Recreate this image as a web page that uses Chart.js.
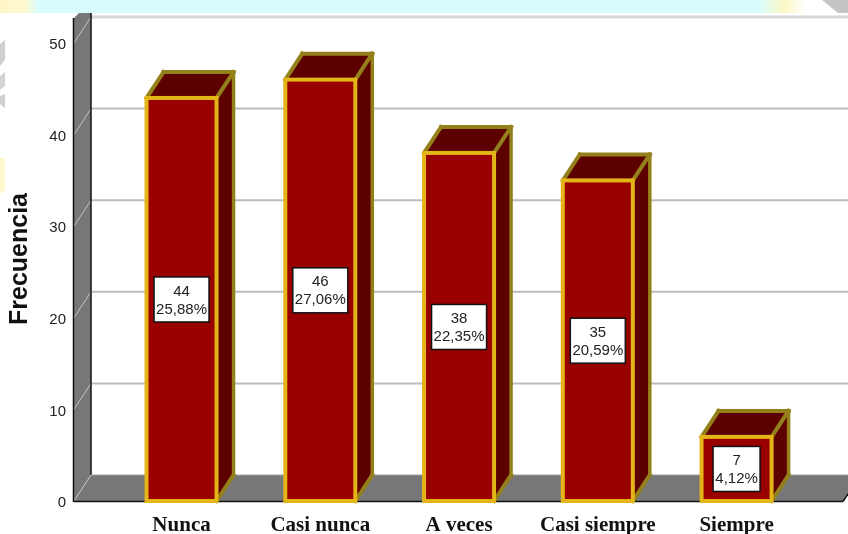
<!DOCTYPE html>
<html>
<head>
<meta charset="utf-8">
<title>Frecuencia</title>
<script src="https://cdn.jsdelivr.net/npm/chart.js@4"></script>
<style>
  html, body { margin: 0; padding: 0; background: #fff; }
  canvas { display: block; }
</style>
</head>
<body>
<canvas id="chart" width="848" height="534"></canvas>
<script>
// Chart data
const categories = ["Nunca", "Casi nunca", "A veces", "Casi siempre", "Siempre"];
const frequencies = [44, 46, 38, 35, 7];
const percentages = ["25,88%", "27,06%", "22,35%", "20,59%", "4,12%"];
const yTicks = [0, 10, 20, 30, 40, 50];
const yTitle = "Frecuencia";

// 3D look
const depthX = 17;
const depthY = 26;
const gold = "#e3b516";
const olive = "#94801a";
const wallGrey = "#777777";

function poly(ctx, pts, fill) {
  ctx.beginPath();
  pts.forEach((p, i) => i ? ctx.lineTo(p[0], p[1]) : ctx.moveTo(p[0], p[1]));
  ctx.closePath();
  if (fill) { ctx.fillStyle = fill; ctx.fill(); }
}

function line(ctx, x1, y1, x2, y2, color, width) {
  ctx.strokeStyle = color;
  ctx.lineWidth = width;
  ctx.beginPath();
  ctx.moveTo(x1, y1);
  ctx.lineTo(x2, y2);
  ctx.stroke();
}

// Page background scraps around the chart
const backdrop = {
  id: "backdrop",
  beforeDraw(chart) {
    const ctx = chart.ctx;
    const band = ctx.createLinearGradient(0, 0, 848, 0);
    band.addColorStop(0, "#fff6c8");
    band.addColorStop(0.03, "#fdf8d0");
    band.addColorStop(0.045, "#d8fcfc");
    band.addColorStop(0.895, "#d8fcfc");
    band.addColorStop(0.925, "#fdf8c4");
    band.addColorStop(0.95, "#ffffff");
    band.addColorStop(1, "#ffffff");
    ctx.fillStyle = band;
    ctx.fillRect(0, 0, 848, 13);
    poly(ctx, [[822, 0], [848, 0], [848, 13], [838, 13]], "#c4c4c4");
    poly(ctx, [[0, 44], [5, 40], [5, 60], [0, 66]], "#cfcfcf");
    poly(ctx, [[0, 76], [5, 72], [5, 86], [0, 90]], "#d4d4d4");
    poly(ctx, [[0, 96], [5, 94], [5, 108], [0, 104]], "#cfcfcf");
    poly(ctx, [[0, 158], [5, 158], [5, 190], [0, 194]], "#fcf8cc");
  }
};

// Walls, floor, grid and bar sides
const walls = {
  id: "walls",
  beforeDatasetsDraw(chart) {
    const ctx = chart.ctx;
    const { left, right, bottom } = chart.chartArea;
    const y = chart.scales.y;
    ctx.save();
    poly(ctx, [[left, bottom], [left + depthX, bottom - depthY], [left + depthX, 13], [left + 5, 13], [left, 18]], wallGrey);
    poly(ctx, [[left, bottom], [right, bottom], [right + depthX, bottom - depthY], [left + depthX, bottom - depthY]], wallGrey);
    yTicks.forEach(v => {
      const py = y.getPixelForValue(v);
      if (v > 0) {
        line(ctx, left + depthX, py - depthY, 848, py - depthY, v === 50 ? "#d6d6d6" : "#bdbdbd", v === 50 ? 3 : 2);
      }
      line(ctx, left, py, left + depthX, py - depthY, "#c4c4c4", 1);
    });
    line(ctx, left - 0.5, 18, left - 0.5, bottom + 1, "#111", 1.5);
    line(ctx, left + depthX, 13, left + depthX, bottom - depthY, "#111", 1.5);
    line(ctx, left, bottom + 0.5, right, bottom + 0.5, "#111", 1.5);
    line(ctx, right, bottom + 0.5, right + 5, bottom - 7, "#111", 1.5);
    line(ctx, left + depthX, bottom - depthY, 848, bottom - depthY, "#a0a0a0", 1);

    chart.getDatasetMeta(0).data.forEach(bar => {
      const l = bar.x - bar.width / 2, r = bar.x + bar.width / 2;
      const t = bar.y, b = bar.base;
      poly(ctx, [[r, t], [r + depthX, t - depthY], [r + depthX, b - depthY], [r, b]], "#5c0000");
      poly(ctx, [[l, t], [l + depthX, t - depthY], [r + depthX, t - depthY], [r, t]], "#5c0000");
      ctx.lineCap = "square";
      line(ctx, l, t, l + depthX, t - depthY, olive, 4);
      line(ctx, l + depthX, t - depthY, r + depthX, t - depthY, olive, 4);
      line(ctx, r, t, r + depthX, t - depthY, olive, 4);
      line(ctx, r + depthX, t - depthY, r + depthX, b - depthY, olive, 3.5);
      line(ctx, r, b, r + depthX, b - depthY, olive, 4);
      ctx.lineCap = "butt";
    });
    ctx.restore();
  }
};

// Gold frame, the count / percent boxes and the y title
const barLabels = {
  id: "barLabels",
  afterDatasetsDraw(chart) {
    const ctx = chart.ctx;
    const y = chart.scales.y;
    ctx.save();
    chart.getDatasetMeta(0).data.forEach((bar, i) => {
      ctx.strokeStyle = gold;
      ctx.lineWidth = 4;
      ctx.strokeRect(bar.x - bar.width / 2, bar.y, bar.width, bar.base - bar.y);

      ctx.font = "15px 'Liberation Sans'";
      ctx.textAlign = "center";
      ctx.textBaseline = "middle";
      const w = Math.round(ctx.measureText(percentages[i]).width) + 4;
      const h = 45;
      const cy = y.getPixelForValue(frequencies[i] / 2);
      ctx.fillStyle = "#ffffff";
      ctx.fillRect(bar.x - w / 2, cy - h / 2, w, h);
      ctx.strokeStyle = "#111";
      ctx.lineWidth = 1.5;
      ctx.strokeRect(bar.x - w / 2, cy - h / 2, w, h);
      ctx.fillStyle = "#222";
      ctx.fillText(String(frequencies[i]), bar.x, cy - 8);
      ctx.fillText(percentages[i], bar.x, cy + 10);
    });

    ctx.translate(27, 259);
    ctx.rotate(-Math.PI / 2);
    ctx.font = "bold 25px 'Liberation Sans'";
    ctx.textAlign = "center";
    ctx.textBaseline = "alphabetic";
    ctx.fillStyle = "#111";
    ctx.fillText(yTitle, 0, 0);
    ctx.restore();
  }
};

new Chart(document.getElementById("chart").getContext("2d"), {
  type: "bar",
  data: {
    datasets: [{
      data: frequencies.map((v, i) => ({ x: i, y: v })),
      backgroundColor: "#990000",
      borderWidth: 0,
      barThickness: 70
    }]
  },
  options: {
    responsive: false,
    animation: false,
    layout: { padding: { top: 43, right: 5 } },
    plugins: { legend: { display: false }, tooltip: { enabled: false } },
    scales: {
      x: {
        type: "linear",
        offset: false,
        min: -0.775,
        max: 4.767,
        grid: { display: false, offset: false },
        border: { display: false },
        afterBuildTicks(axis) {
          axis.ticks = categories.map((_, i) => ({ value: i }));
        },
        afterFit(axis) { axis.height = 33; },
        ticks: {
          autoSkip: false,
          maxRotation: 0,
          padding: 4,
          color: "#111",
          font: { family: "'Liberation Serif'", size: 21, weight: "bold" },
          callback: v => categories[v]
        }
      },
      y: {
        min: 0,
        max: 50,
        grid: { display: false },
        border: { display: false },
        afterBuildTicks(axis) {
          axis.ticks = yTicks.map(v => ({ value: v }));
        },
        afterFit(axis) { axis.width = 74; },
        ticks: {
          padding: 0,
          labelOffset: 2,
          color: "#222",
          font: { family: "'Liberation Sans'", size: 15 }
        }
      }
    }
  },
  plugins: [backdrop, walls, barLabels]
});
</script>
</body>
</html>
